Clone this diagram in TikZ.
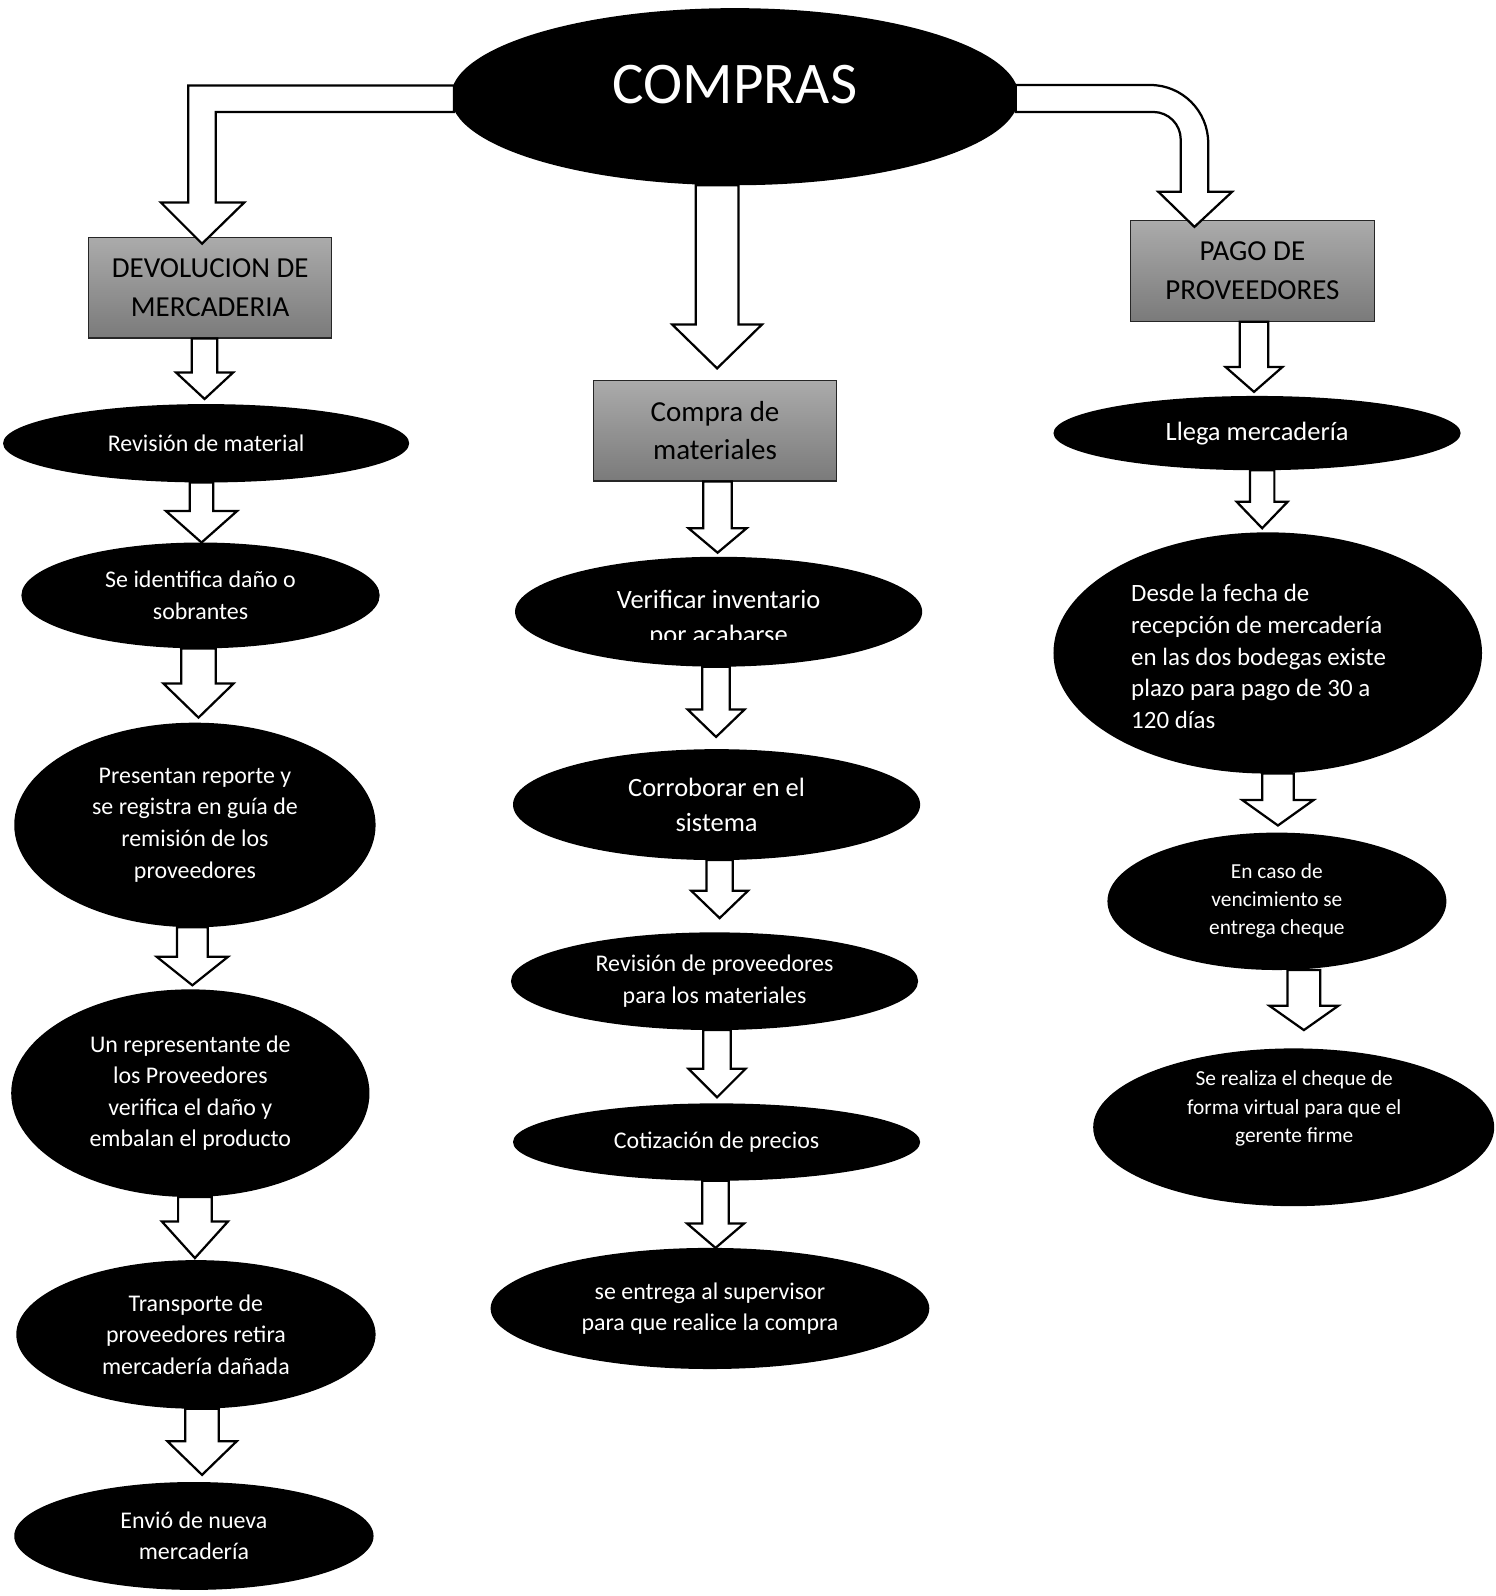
\documentclass[tikz,border=0pt]{standalone}
\usepackage{fontspec}
\setmainfont{Carlito}
\usetikzlibrary{shapes.geometric,calc}

\tikzset{
  caja/.style={rectangle, draw=black!85, line width=1.2pt, top color=black!33, bottom color=black!52,
    minimum width=239pt, minimum height=99pt, inner sep=0pt, align=center, font=\fontsize{28.5}{38}\selectfont},
  paso/.style={ellipse, fill=black, text=white, inner sep=0pt, outer sep=0pt, align=center,
    font=\fontsize{23.5}{31}\selectfont},
  pasog/.style={paso, font=\fontsize{26}{34}\selectfont},
  pasop/.style={paso, font=\fontsize{21}{27.5}\selectfont},
  medida/.style 2 args={minimum width=#1pt, minimum height=#2pt},
  blanco/.style={text=white, inner sep=0pt},
  bloque/.style={draw=black, fill=white, line width=2.2pt, line join=miter},
}

% block arrow: [gap], x, from, to, half shaft, half head, head length
\newcommand{\flecha}[7][0]{%
  \draw[bloque] let \p1=(#3.south), \p2=(#4.north) in
    (#2pt-#5pt,\y1) -- (#2pt-#5pt,\y2+#1pt+#7pt) -- (#2pt-#6pt,\y2+#1pt+#7pt) -- (#2pt,\y2+#1pt)
    -- (#2pt+#6pt,\y2+#1pt+#7pt) -- (#2pt+#5pt,\y2+#1pt+#7pt) -- (#2pt+#5pt,\y1) -- cycle;}

\begin{document}
\begin{tikzpicture}[x=1pt,y=-1pt]
  \useasboundingbox (0,0) rectangle (1469,1568);

  % Main node
  \node[paso, medida={558}{174}] (compras) at (722,95) {};
  \node[blanco, font=\fontsize{58}{60}\selectfont] (tcompras) at (722,83.5) {COMPRAS};

  % Three branches
  \node[caja] (dev) at (206.5,282.5) {DEVOLUCION DE\\MERCADERIA};
  \node[caja] (comp) at (702.5,423) {Compra de\\materiales};
  \node[caja] (pago) at (1230.5,266) {PAGO DE\\PROVEEDORES};

  % Left column
  \node[paso, medida={399}{77}] (e1) at (202.5,435.5) {Revisión de material};
  \node[paso, medida={352}{104}] (e2) at (197,585) {Se identifica daño o\\sobrantes};
  \node[paso, medida={355}{201}] (e3) at (191.5,810.5) {Presentan reporte y\\se registra en guía de\\remisión de los\\proveedores};
  \node[paso, medida={352}{204}] (e4) at (187,1074) {Un representante de\\los Proveedores\\verifica el daño y\\embalan el producto};
  \node[paso, medida={353}{146}] (e5) at (192.5,1311) {Transporte de\\proveedores retira\\mercadería dañada};
  \node[paso, medida={353}{106}] (e6) at (190.5,1509) {Envió de nueva\\mercadería};

  % Middle column
  \node[pasog, medida={400}{108}] (m1) at (706,601) {};
  \begin{scope}
    \clip (506,547) rectangle (906,628);
    \node[blanco, align=center, font=\fontsize{26}{34}\selectfont] (tm1) at (706,608) {Verificar inventario\\por acabarse};
  \end{scope}
  \node[pasog, medida={400}{109}] (m2) at (704,790.5) {Corroborar en el\\sistema};
  \node[paso, medida={400}{96}] (m3) at (702,964) {Revisión de proveedores\\para los materiales};
  \node[paso, medida={400}{76}] (m4) at (704,1122) {Cotización de precios};
  \node[paso, medida={431}{119}] (m5) at (697.5,1285.5) {se entrega al supervisor\\para que realice la compra};

  % Right column
  \node[pasog, medida={400}{73}] (r1) at (1235,425.5) {Llega mercadería};
  \node[paso, medida={421}{237}] (r2) at (1245.5,641.5) {};
  \node[blanco, align=left, font=\fontsize{24.5}{31.25}\selectfont] (tr2) at (1236.5,645) {Desde la fecha de\\recepción de mercadería\\en las dos bodegas existe\\plazo para pago de 30 a\\120 días};
  \node[pasop, medida={333}{135}] (r3) at (1254.5,885.5) {En caso de\\vencimiento se\\entrega cheque};
  \node[pasop, medida={394}{155}] (r4) at (1271,1107.5) {};
  \node[blanco, align=center, font=\fontsize{21}{28}\selectfont] (tr4) at (1271.5,1089) {Se realiza el cheque de\\forma virtual para que el\\gerente firme};

  % Arrows from the main node
  \draw[bloque] let \p1=(compras.west), \p2=(dev.north) in
    (\x1+3pt,\y1+11pt) -- (185pt,\y1+11pt) -- (185pt,\y2+33.5pt) -- (158pt,\y2+33.5pt)
    -- (198.5pt,\y2-7pt) -- (240pt,\y2+33.5pt) -- (212pt,\y2+33.5pt) -- (212pt,\y1-15pt)
    -- (\x1+3pt,\y1-15pt) -- cycle;
  \draw[bloque] let \p1=(compras.east), \p2=(pago.north) in
    (\x1-3pt,\y1+11.5pt) -- (1130pt,\y1+11.5pt) arc[start angle=90, end angle=0, radius=57pt]
    -- (1187pt,\y2+27.5pt) -- (1210.5pt,\y2+27.5pt) -- (1173.5pt,\y2-7pt) -- (1138pt,\y2+27.5pt)
    -- (1160pt,\y2+27.5pt) -- (1160pt,\y1-42pt) arc[start angle=0, end angle=90, radius=27pt]
    -- (\x1-3pt,\y1-15pt) -- cycle;
  \flecha[11]{704.5}{compras}{comp}{21}{44}{43}

  % Step arrows
  \flecha[5]{201}{dev}{e1}{12.5}{28}{26}
  \flecha{198}{e1}{e2}{11.5}{35}{31}
  \flecha[5]{195}{e2}{e3}{17}{34.5}{33.5}
  \flecha[4]{189}{e3}{e4}{15}{35}{28}
  \flecha[2]{191.5}{e4}{e5}{16.5}{32.5}{36}
  \flecha[7]{198.5}{e5}{e6}{16.5}{34}{33}

  \flecha[4]{705}{comp}{m1}{14}{28.5}{24}
  \flecha[12]{703.5}{m1}{m2}{13.5}{28}{27}
  \flecha[14]{707}{m2}{m3}{13}{28}{27}
  \flecha[6]{704.5}{m3}{m4}{13.5}{28}{28}
  \flecha{703}{m4}{m5}{13}{28}{24}

  \flecha[4]{1232}{pago}{r1}{14}{28}{24.5}
  \flecha[4]{1240}{r1}{r2}{12}{25}{26}
  \flecha[7]{1255.5}{r2}{r3}{15.5}{35}{25}
  \flecha[18]{1281}{r3}{r4}{16}{34}{24}
\end{tikzpicture}
\end{document}
